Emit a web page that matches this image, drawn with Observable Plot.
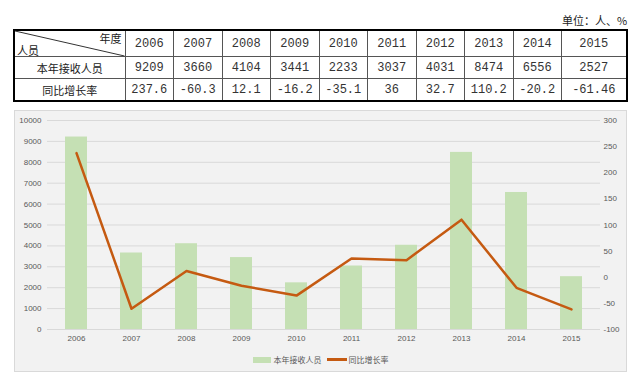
<!DOCTYPE html>
<html><head><meta charset="utf-8">
<script src="https://cdn.jsdelivr.net/npm/d3@7"></script>
<script src="https://cdn.jsdelivr.net/npm/@observablehq/plot@0.6"></script>
<style>
html,body{margin:0;padding:0;background:#fff;}
body{width:638px;height:382px;position:relative;overflow:hidden;font-family:"Noto Sans CJK SC",sans-serif;}
#unit{position:absolute;left:562px;top:13px;font-size:11px;color:#222;line-height:14px;}
#tbl{position:absolute;left:13px;top:29px;border-collapse:collapse;table-layout:fixed;width:613px;border:2px solid #000;}
#tbl td{border:1px solid #555;text-align:center;padding:0;color:#333;font-size:12px;font-family:"Liberation Mono","Noto Sans CJK SC",monospace;}
#tbl td.cn{font-family:"Noto Sans CJK SC",sans-serif;font-size:11px;color:#222;}
#tbl tr.h td{height:25px;}
#tbl tr.r td{height:21px;}
#tbl td.corner{position:relative;font-family:"Noto Sans CJK SC",sans-serif;font-size:11px;color:#222;}
#panel{position:absolute;left:14px;top:110px;width:611px;height:260px;background:#f2f2f2;border:1px solid #d9d9d9;}
#legend{position:absolute;left:0;right:0;top:243px;display:flex;justify-content:center;align-items:center;font-size:8px;color:#595959;font-family:"Noto Sans CJK SC",sans-serif;}
.sw{display:inline-block;}
</style>
</head><body>
<div id="unit"></div>
<table id="tbl"></table>
<div id="panel"><div id="chart"></div><div id="legend"></div></div>
<script>
const years = ["2006","2007","2008","2009","2010","2011","2012","2013","2014","2015"];
const received = [9209, 3660, 4104, 3441, 2233, 3037, 4031, 8474, 6556, 2527];
const growth = [237.6, -60.3, 12.1, -16.2, -35.1, 36, 32.7, 110.2, -20.2, -61.46];
const seriesNames = ["本年接收人员", "同比增长率"];
const cornerTop = "年度";
const cornerBottom = "人员";
const unitText = "单位：人、%";
const leftTicks = [0, 1000, 2000, 3000, 4000, 5000, 6000, 7000, 8000, 9000, 10000];
const rightTicks = [-100, -50, 0, 50, 100, 150, 200, 250, 300];
const barColor = "#c5e0b4";
const lineColor = "#c55a11";

document.getElementById("unit").textContent = unitText;

// table
const tbl = d3.select("#tbl");
const cg = tbl.append("colgroup");
cg.append("col").style("width","111px");
years.forEach((y,i)=>cg.append("col").style("width", i===years.length-1 ? "65px" : "48.5px"));
const h = tbl.append("tr").attr("class","h");
const corner = h.append("td").attr("class","corner");
corner.html(`<svg style="position:absolute;left:0;top:0;width:100%;height:100%;overflow:visible"><line x1="0" y1="0" x2="100%" y2="100%" stroke="#333" stroke-width="1"/></svg>
<span style="position:absolute;right:3px;top:0px;line-height:14px">${cornerTop}</span>
<span style="position:absolute;left:2px;bottom:-1px;line-height:14px">${cornerBottom}</span>`);
years.forEach(y=>h.append("td").text(y));
const r1 = tbl.append("tr").attr("class","r");
r1.append("td").attr("class","cn").text(seriesNames[0]);
received.forEach(v=>r1.append("td").text(String(v)));
const r2 = tbl.append("tr").attr("class","r");
r2.append("td").attr("class","cn").text(seriesNames[1]);
growth.forEach(v=>r2.append("td").text(String(v)));

// chart
const rMin = rightTicks[0], rMax = rightTicks[rightTicks.length-1];
const lMax = leftTicks[leftTicks.length-1];
const toLeft = v => (v - rMin) * lMax / (rMax - rMin);
const rows = years.map((y,i)=>({year:y, received:received[i], growth:growth[i], gy:toLeft(growth[i])}));

const chart = Plot.plot({
  width: 611, height: 240,
  marginLeft: 32, marginRight: 26, marginTop: 9, marginBottom: 22,
  style: {background:"transparent", fontFamily:"Liberation Sans, sans-serif", fontSize:"8px", color:"#595959", overflow:"visible"},
  x: {domain: years, paddingInner: 0.6, paddingOuter: 0.3, label: null},
  y: {domain: [0, lMax], label: null},
  marks: [
    Plot.gridY(leftTicks, {stroke:"#d9d9d9", strokeOpacity:1}),
    Plot.barY(rows, {x:"year", y:"received", fill:barColor}),
    Plot.line(rows, {x:"year", y:"gy", stroke:lineColor, strokeWidth:2.5}),
    Plot.axisY(leftTicks, {anchor:"left", tickSize:0, tickPadding:6, label:null, tickFormat: d => String(d)}),
    Plot.axisY(rightTicks.map(toLeft), {anchor:"right", tickSize:0, tickPadding:3, label:null, textAnchor:"start", tickFormat: d => String(Math.round(d*(rMax-rMin)/lMax + rMin))}),
    Plot.axisX({tickSize:0, tickPadding:6, label:null})
  ]
});
document.getElementById("chart").appendChild(chart);

const lg = d3.select("#legend");
const a = lg.append("span").style("display","flex").style("align-items","center");
a.append("span").attr("class","sw").style("width","18px").style("height","6px").style("background",barColor).style("margin-right","3px");
a.append("span").text(seriesNames[0]);
const b = lg.append("span").style("display","flex").style("align-items","center").style("margin-left","5px");
b.append("span").attr("class","sw").style("width","20px").style("height","2.5px").style("background",lineColor).style("margin-right","2px");
b.append("span").text(seriesNames[1]);
</script>
</body></html>
